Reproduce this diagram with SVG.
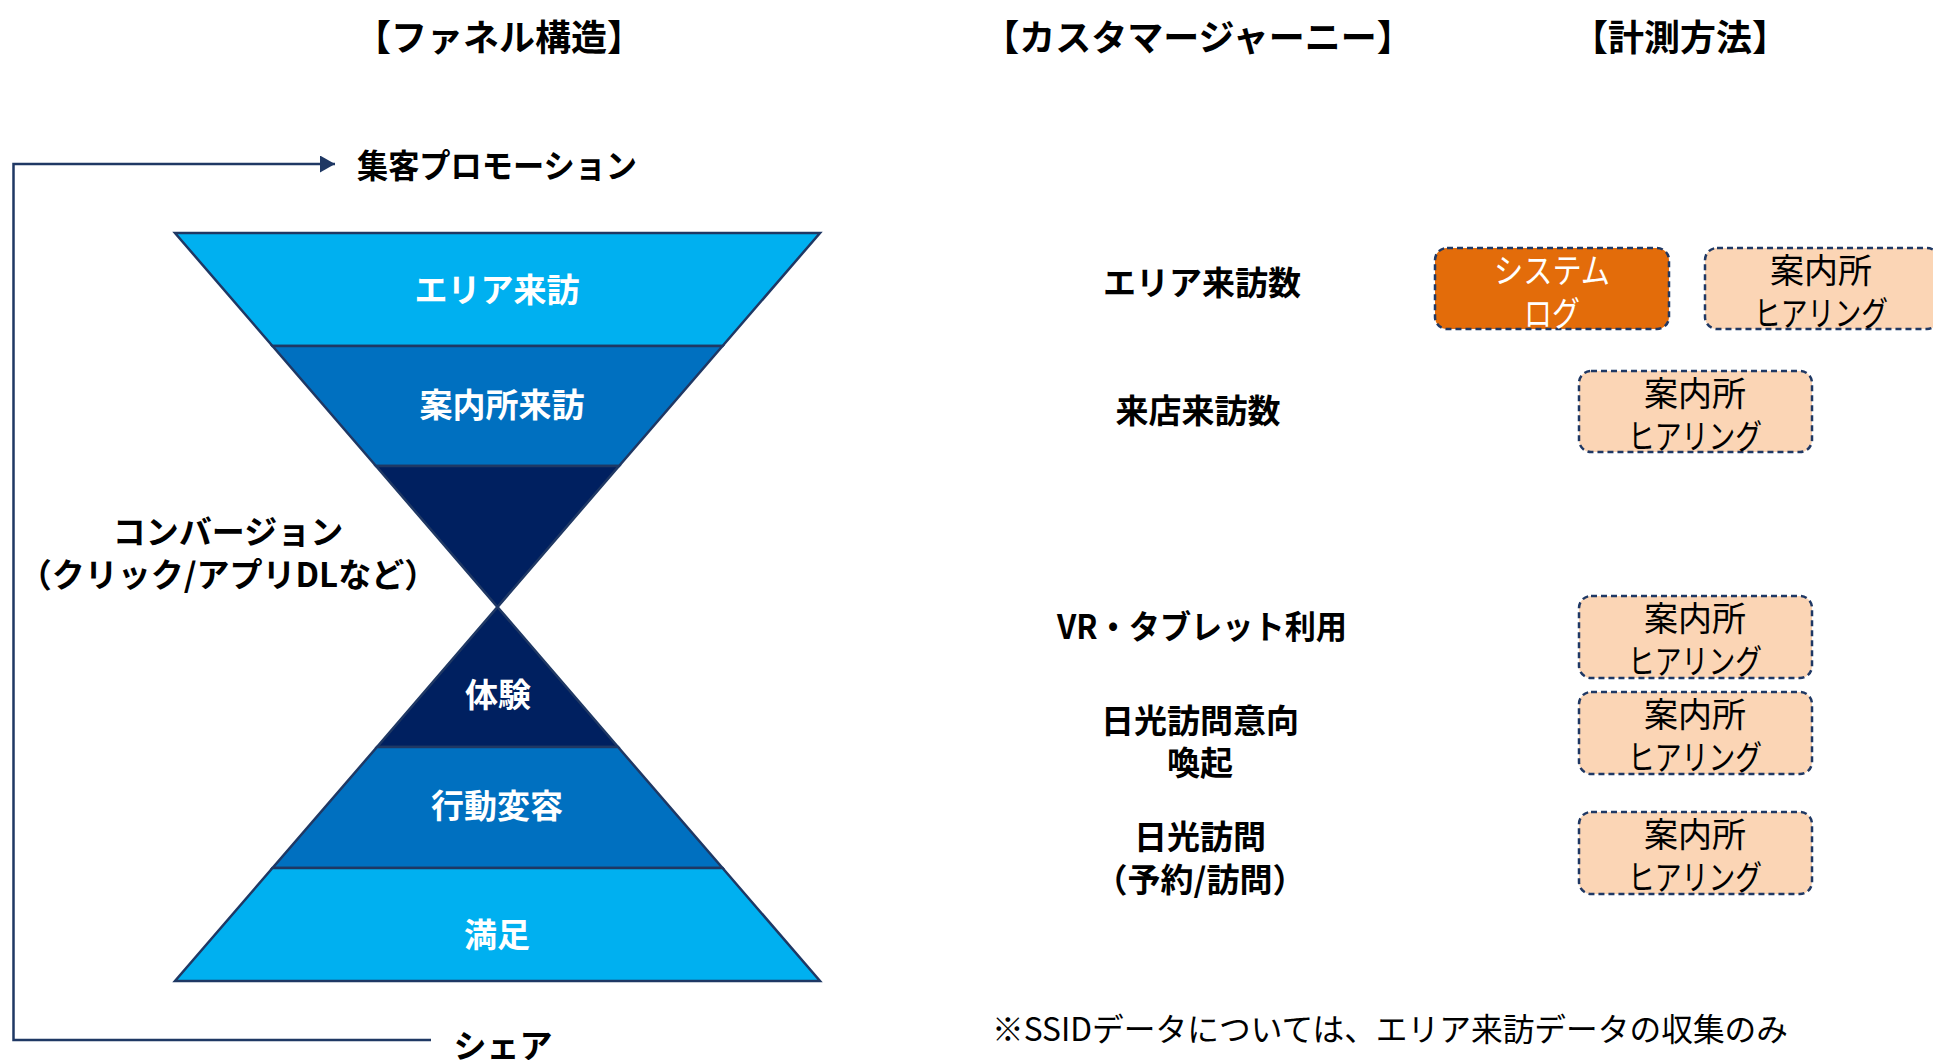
<svg xmlns="http://www.w3.org/2000/svg" width="1933" height="1060" viewBox="0 0 1933 1060">
  <defs>
    <marker id="arrow" markerUnits="userSpaceOnUse" markerWidth="16" markerHeight="17" refX="15" refY="8.5" orient="auto">
      <path d="M0,0 L15,8.5 L0,17 z" fill="#1f3864"/>
    </marker>
    <style>
      text { font-family: "Noto Sans CJK JP", "Noto Sans", sans-serif; dominant-baseline: central; text-anchor: middle; }
      .title { font-size: 36px; font-weight: 700; fill: #000; }
      .lbl { font-size: 33px; font-weight: 700; fill: #000; }
      .flbl { font-size: 33px; font-weight: 700; fill: #fff; }
      .seg { stroke: #1f3864; stroke-width: 2.5; stroke-linejoin: miter; }
      .light { fill: #00b0f0; }
      .mid { fill: #0070c0; }
      .dark { fill: #002060; }
      .box { fill: #fbd5b5; stroke: #1f3864; stroke-width: 2.5; stroke-dasharray: 6 4; }
      .obox { fill: #e36c0a; stroke: #1f3864; stroke-width: 2.5; stroke-dasharray: 6 4; }
      .btxt { font-size: 34px; font-weight: 400; fill: #000; }
      .wtxt { font-size: 34px; font-weight: 400; fill: #fff; }
      .note { font-size: 32px; font-weight: 400; fill: #000; text-anchor: start; }
      .conn { fill: none; stroke: #1f3864; stroke-width: 2.5; }
    </style>
  </defs>

  <rect width="1933" height="1060" fill="#fff"/>

  <!-- titles -->
  <g id="title-funnel"><text class="title" x="499" y="35">【ファネル構造】</text></g>
  <g id="title-journey"><text class="title" x="1198" y="35">【カスタマージャーニー】</text></g>
  <g id="title-method"><text class="title" x="1680" y="35">【計測方法】</text></g>

  <!-- connectors -->
  <g id="connectors">
    <path class="conn" d="M431,1040 H13.5 V164 H335" marker-end="url(#arrow)"/>
  </g>

  <!-- outer labels -->
  <g id="promotion"><text class="lbl" x="497" y="164" textLength="280" lengthAdjust="spacingAndGlyphs">集客プロモーション</text></g>
  <g id="share"><text class="lbl" x="503" y="1044">シェア</text></g>
  <g id="conversion">
    <text class="lbl" x="228" y="530">コンバージョン</text>
    <text class="lbl" x="228" y="573">（クリック/アプリDLなど）</text>
  </g>

  <!-- funnel -->
  <g id="seg-area-visit">
    <polygon class="seg light" points="175,233 820,233 722.5,346 272.5,346"/>
    <text class="flbl" x="497" y="288">エリア来訪</text>
  </g>
  <g id="seg-info-visit">
    <polygon class="seg mid" points="272.5,346 722.5,346 619,466 376,466"/>
    <text class="flbl" x="502" y="403">案内所来訪</text>
  </g>
  <g id="seg-conversion-top">
    <polygon class="seg dark" points="376,466 619,466 497.5,607"/>
  </g>
  <g id="seg-experience">
    <polygon class="seg dark" points="497.5,607 618,747 377,747"/>
    <text class="flbl" x="498" y="693">体験</text>
  </g>
  <g id="seg-behavior">
    <polygon class="seg mid" points="377,747 618,747 722.5,868 272.5,868"/>
    <text class="flbl" x="497" y="804">行動変容</text>
  </g>
  <g id="seg-satisfaction">
    <polygon class="seg light" points="272.5,868 722.5,868 820,981 175,981"/>
    <text class="flbl" x="497" y="933">満足</text>
  </g>

  <!-- journey labels -->
  <g id="j-area"><text class="lbl" x="1202" y="281">エリア来訪数</text></g>
  <g id="j-store"><text class="lbl" x="1198" y="409">来店来訪数</text></g>
  <g id="j-vr"><text class="lbl" x="1202" y="625" textLength="290" lengthAdjust="spacingAndGlyphs">VR・タブレット利用</text></g>
  <g id="j-intent">
    <text class="lbl" x="1200" y="719">日光訪問意向</text>
    <text class="lbl" x="1200" y="761">喚起</text>
  </g>
  <g id="j-visit">
    <text class="lbl" x="1200" y="835">日光訪問</text>
    <text class="lbl" x="1200" y="878">（予約/訪問）</text>
  </g>

  <!-- measurement boxes -->
  <g id="m-syslog">
    <rect class="obox" x="1435" y="248" width="234" height="81" rx="12"/>
    <text class="wtxt" x="1552" y="268" textLength="116" lengthAdjust="spacingAndGlyphs">システム</text>
    <text class="wtxt" x="1552" y="311" textLength="56" lengthAdjust="spacingAndGlyphs">ログ</text>
  </g>
  <g id="m-hearing-1">
    <rect class="box" x="1705" y="248" width="234" height="81" rx="12"/>
    <text class="btxt" x="1821" y="268">案内所</text>
    <text class="btxt" x="1821" y="311" textLength="134" lengthAdjust="spacingAndGlyphs">ヒアリング</text>
  </g>
  <g id="m-hearing-2">
    <rect class="box" x="1579" y="371" width="233" height="81" rx="12"/>
    <text class="btxt" x="1695" y="391">案内所</text>
    <text class="btxt" x="1695" y="434" textLength="134" lengthAdjust="spacingAndGlyphs">ヒアリング</text>
  </g>
  <g id="m-hearing-3">
    <rect class="box" x="1579" y="596" width="233" height="82" rx="12"/>
    <text class="btxt" x="1695" y="616">案内所</text>
    <text class="btxt" x="1695" y="659" textLength="134" lengthAdjust="spacingAndGlyphs">ヒアリング</text>
  </g>
  <g id="m-hearing-4">
    <rect class="box" x="1579" y="692" width="233" height="82" rx="12"/>
    <text class="btxt" x="1695" y="712">案内所</text>
    <text class="btxt" x="1695" y="755" textLength="134" lengthAdjust="spacingAndGlyphs">ヒアリング</text>
  </g>
  <g id="m-hearing-5">
    <rect class="box" x="1579" y="812" width="233" height="82" rx="12"/>
    <text class="btxt" x="1695" y="832">案内所</text>
    <text class="btxt" x="1695" y="875" textLength="134" lengthAdjust="spacingAndGlyphs">ヒアリング</text>
  </g>

  <!-- footnote -->
  <g id="footnote"><text class="note" x="992" y="1027" textLength="796" lengthAdjust="spacingAndGlyphs">※SSIDデータについては、エリア来訪データの収集のみ</text></g>
</svg>
